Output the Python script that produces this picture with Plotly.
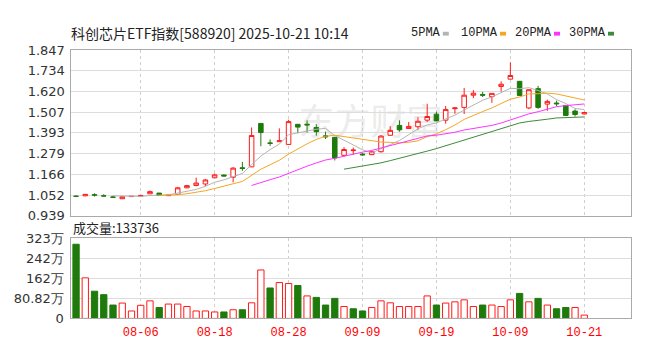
import plotly.graph_objects as go
import pandas as pd

# ---------------- data ----------------
dates = ["07-28", "07-29", "07-30", "07-31", "08-01", "08-04", "08-05", "08-06", "08-07", "08-08",
         "08-11", "08-12", "08-13", "08-14", "08-15", "08-18", "08-19", "08-20", "08-21", "08-22",
         "08-25", "08-26", "08-27", "08-28", "08-29", "09-01", "09-02", "09-03", "09-04", "09-05",
         "09-08", "09-09", "09-10", "09-11", "09-12", "09-15", "09-16", "09-17", "09-18", "09-19",
         "09-22", "09-23", "09-24", "09-25", "09-26", "09-29", "09-30", "10-09", "10-10", "10-13",
         "10-14", "10-15", "10-16", "10-17", "10-20", "10-21"]

opens = [1.046, 1.048, 1.054, 1.048, 1.042, 1.032, 1.044, 1.046, 1.059, 1.063,
         1.049, 1.056, 1.092, 1.105, 1.113, 1.147, 1.162, 1.150, 1.202, 1.207,
         1.445, 1.338, 1.345, 1.330, 1.440, 1.441, 1.423, 1.377, 1.369, 1.270,
         1.296, 1.277, 1.274, 1.290, 1.380, 1.434, 1.417, 1.427, 1.463, 1.496,
         1.463, 1.526, 1.533, 1.600, 1.604, 1.592, 1.648, 1.688, 1.676, 1.530,
         1.636, 1.551, 1.557, 1.544, 1.513, 1.497]
highs = [1.050, 1.058, 1.062, 1.057, 1.048, 1.045, 1.047, 1.052, 1.077, 1.064,
         1.053, 1.097, 1.108, 1.148, 1.140, 1.170, 1.165, 1.205, 1.234, 1.423,
         1.447, 1.357, 1.418, 1.465, 1.442, 1.462, 1.441, 1.400, 1.370, 1.315,
         1.313, 1.282, 1.292, 1.380, 1.430, 1.462, 1.453, 1.479, 1.553, 1.509,
         1.541, 1.535, 1.640, 1.628, 1.618, 1.611, 1.676, 1.780, 1.678, 1.632,
         1.651, 1.576, 1.570, 1.545, 1.523, 1.509]
lows = [1.041, 1.046, 1.044, 1.046, 1.036, 1.031, 1.043, 1.045, 1.058, 1.048,
        1.048, 1.055, 1.090, 1.100, 1.100, 1.145, 1.155, 1.122, 1.185, 1.205,
        1.320, 1.322, 1.343, 1.328, 1.392, 1.395, 1.378, 1.360, 1.242, 1.266,
        1.273, 1.268, 1.271, 1.285, 1.378, 1.400, 1.415, 1.409, 1.453, 1.457,
        1.444, 1.498, 1.497, 1.584, 1.590, 1.558, 1.620, 1.686, 1.596, 1.523,
        1.525, 1.514, 1.540, 1.488, 1.483, 1.495]
closes = [1.045, 1.056, 1.052, 1.047, 1.040, 1.043, 1.045, 1.050, 1.071, 1.050,
          1.052, 1.092, 1.104, 1.118, 1.135, 1.163, 1.157, 1.200, 1.198, 1.379,
          1.395, 1.336, 1.350, 1.455, 1.425, 1.437, 1.400, 1.372, 1.256, 1.302,
          1.299, 1.273, 1.290, 1.376, 1.407, 1.410, 1.429, 1.457, 1.483, 1.459,
          1.522, 1.530, 1.600, 1.611, 1.600, 1.610, 1.660, 1.708, 1.598, 1.630,
          1.533, 1.566, 1.553, 1.489, 1.494, 1.505]
volumes_wan = [300, 164, 110, 96, 54, 62, 30, 53, 71, 44,
               58, 58, 48, 30, 30, 26, 26, 35, 35, 63,
               196, 123, 145, 141, 133, 91, 85, 54, 81, 48,
               39, 30, 44, 71, 63, 48, 48, 48, 91, 54,
               62, 67, 75, 48, 54, 54, 48, 75, 101, 67,
               81, 54, 39, 44, 44, 13.37]

price_tick_labels = ["0.939", "1.052", "1.166", "1.279", "1.393", "1.507", "1.620", "1.734", "1.847"]
vol_tick_values = [0, 80.82, 161.64, 242.46, 323.28]
vol_tick_labels = ["0", "80.82万", "162万", "242万", "323万"]
xtick_dates = ["08-06", "08-18", "08-28", "09-09", "09-19", "10-09", "10-21"]

ma_windows = [5, 10, 20, 30]
ma_names = ["5PMA", "10PMA", "20PMA", "30PMA"]

title_text = "科创芯片ETF指数[588920] 2025-10-21 10:14"
volume_text = "成交量:133736"

# ---------------- styles ----------------
W, H = 654, 357
RED = "#ff1a1a"
GREEN = "#1f7a0c"
ma_colors = ["#b4b4b4", "#f5a623", "#ff33ff", "#3d8a3d"]

def px_x(p):
    return p / W

def px_y(p):
    return 1 - p / H

x_dom = [px_x(62.5), px_x(622.5)]
price_dom = [px_y(209.5), px_y(36.7)]
vol_dom = [px_y(316.7), px_y(233.3)]

idx = list(range(len(dates)))
closes_s = pd.Series(closes)

fig = go.Figure()

fig.add_trace(go.Candlestick(
    x=idx, open=opens, high=highs, low=lows, close=closes,
    increasing=dict(line=dict(color=RED, width=1), fillcolor="white"),
    decreasing=dict(line=dict(color=GREEN, width=1), fillcolor=GREEN),
    whiskerwidth=0, xaxis="x", yaxis="y", hoverinfo="skip", showlegend=False,
))

for w, c in zip(ma_windows, ma_colors):
    ma = closes_s.rolling(w).mean()
    fig.add_trace(go.Scatter(x=idx, y=ma, mode="lines", line=dict(color=c, width=1),
                             xaxis="x", yaxis="y", hoverinfo="skip", showlegend=False))

# volume colour follows close vs previous close
vol_up = [closes[0] >= opens[0]] + [closes[i] >= closes[i - 1] for i in range(1, len(closes))]
fig.add_trace(go.Bar(
    x=idx, y=volumes_wan, width=0.68,
    marker=dict(color=["white" if u else GREEN for u in vol_up],
                line=dict(color=[RED if u else GREEN for u in vol_up], width=1)),
    xaxis="x2", yaxis="y2", hoverinfo="skip", showlegend=False,
))

xtick_idx = [dates.index(d) for d in xtick_dates]
x_range = [-0.6, 60.0]
tick_font = dict(family="DejaVu Sans", size=13, color="#333333")

common_x = dict(domain=x_dom, range=x_range, tickvals=xtick_idx, showgrid=True,
                gridcolor="#cfcfcf", griddash="3px,3px", gridwidth=1, zeroline=False,
                showline=True, mirror=True, linecolor="#aaaaaa", linewidth=1, fixedrange=True)

fig.update_layout(
    width=W, height=H,
    margin=dict(l=0, r=0, t=0, b=0),
    paper_bgcolor="white", plot_bgcolor="white",
    showlegend=False,
    xaxis=dict(**common_x, anchor="y", showticklabels=False, rangeslider=dict(visible=False)),
    yaxis=dict(domain=price_dom, range=[0.939, 1.847],
               tickvals=[float(t) for t in price_tick_labels], ticktext=price_tick_labels,
               showgrid=True, gridcolor="#dddddd", zeroline=False,
               showline=True, mirror=True, linecolor="#aaaaaa", linewidth=1,
               ticks="outside", ticklen=2, tickcolor="rgba(0,0,0,0)",
               tickfont=tick_font, anchor="x"),
    xaxis2=dict(**common_x, anchor="y2", ticktext=xtick_dates, showticklabels=True,
                ticks="outside", ticklen=2, tickcolor="rgba(0,0,0,0)",
                tickfont=dict(family="Liberation Mono", size=12, color="#ff0000")),
    yaxis2=dict(domain=vol_dom, range=[0, 323.28],
                tickvals=vol_tick_values, ticktext=vol_tick_labels,
                showgrid=True, gridcolor="#dddddd", zeroline=False,
                showline=True, mirror=True, linecolor="#aaaaaa", linewidth=1,
                ticks="outside", ticklen=3, tickcolor="rgba(0,0,0,0)",
                tickfont=tick_font, anchor="x2"),
)

# title and volume caption
fig.add_annotation(text=title_text, x=px_x(61), y=px_y(19), xref="paper", yref="paper",
                   xanchor="left", yanchor="middle", showarrow=False,
                   font=dict(family="Noto Sans CJK SC", size=14, color="#222222"))
fig.add_annotation(text=volume_text, x=px_x(63), y=px_y(222), xref="paper", yref="paper",
                   xanchor="left", yanchor="middle", showarrow=False,
                   font=dict(family="Noto Sans CJK SC", size=13, color="#222222"))

# MA legend (text + small colour swatches)
legend_text_x = [401, 451, 505, 559]
for name, c, lx in zip(ma_names, ma_colors, legend_text_x):
    fig.add_annotation(text=name, x=px_x(lx), y=px_y(19), xref="paper", yref="paper",
                       xanchor="left", yanchor="middle", showarrow=False,
                       font=dict(family="Liberation Mono", size=12, color="#222222"))
    sx = lx + len(name) * 7.2 + 5
    fig.add_shape(type="rect", xref="paper", yref="paper",
                  x0=px_x(sx), x1=px_x(sx + 6), y0=px_y(21.5), y1=px_y(17.5),
                  fillcolor=c, line=dict(width=0))

# faint watermark
fig.add_shape(type="rect", xref="paper", yref="paper", layer="below",
              x0=px_x(280), x1=px_x(445), y0=px_y(135), y1=px_y(95),
              line=dict(width=0), fillcolor="rgba(0,0,0,0)",
              label=dict(text="东方财富", font=dict(family="Noto Sans CJK SC", size=36, color="#ececec")))

fig.write_html("out.html")
